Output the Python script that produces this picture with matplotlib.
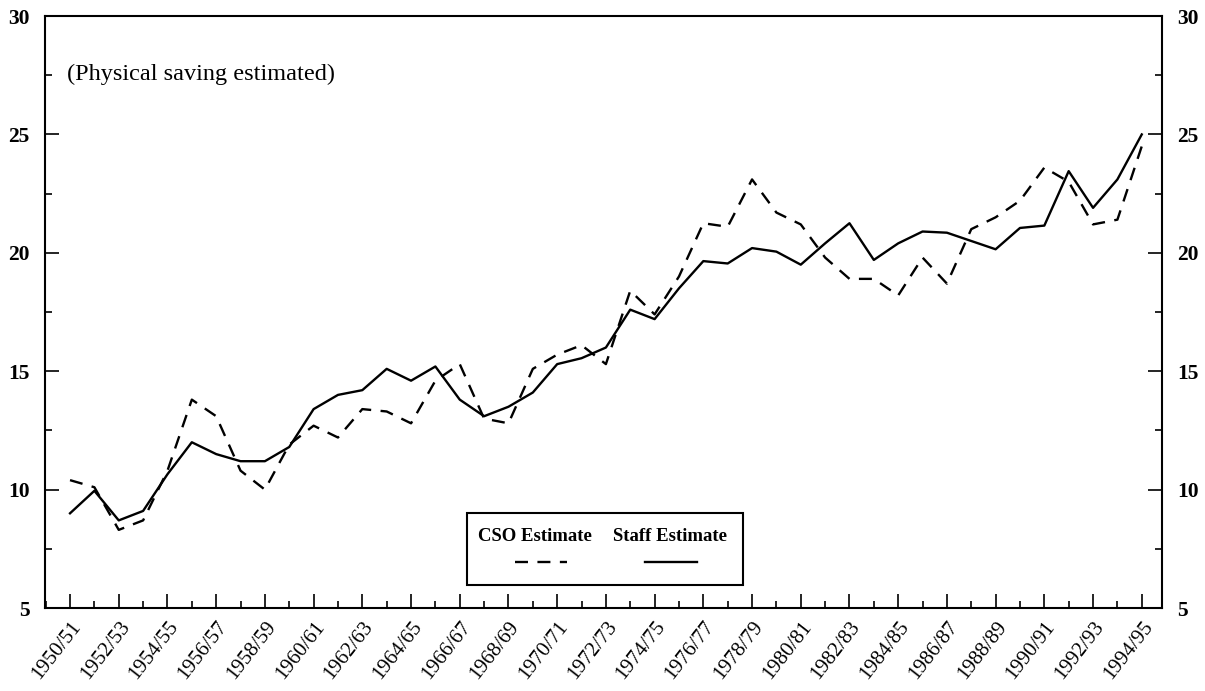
import numpy as np
import matplotlib
matplotlib.use('Agg')
import matplotlib.pyplot as plt
from matplotlib.patches import Rectangle
from matplotlib.lines import Line2D
from matplotlib.ticker import MultipleLocator

plt.rcParams['font.family'] = ['Liberation Serif', 'DejaVu Serif']

# fiscal years 1950/51 .. 1994/95
years = [f"{y}/{(y + 1) % 100:02d}" for y in range(1950, 1995)]

cso = [10.4, 10.1, 8.3, 8.7, 10.8, 13.8, 13.1, 10.8, 10.0, 11.9,
       12.7, 12.2, 13.4, 13.3, 12.8, 14.6, 15.3, 13.0, 12.8, 15.1,
       15.7, 16.1, 15.3, 18.4, 17.4, 19.0, 21.25, 21.1, 23.1, 21.7,
       21.2, 19.8, 18.9, 18.9, 18.2, 19.8, 18.7, 21.0, 21.5, 22.2,
       23.6, 23.0, 21.2, 21.4, 24.5]

staff = [9.0, 9.95, 8.7, 9.1, 10.65, 12.0, 11.5, 11.2, 11.2, 11.8,
         13.4, 14.0, 14.2, 15.1, 14.6, 15.2, 13.8, 13.1, 13.5, 14.1,
         15.3, 15.55, 16.0, 17.6, 17.2, 18.5, 19.65, 19.55, 20.2, 20.05,
         19.5, 20.4, 21.25, 19.7, 20.4, 20.9, 20.85, 20.5, 20.15, 21.05,
         21.15, 23.45, 21.9, 23.1, 25.0]

x = np.arange(len(years))

fig = plt.figure(figsize=(12.05, 6.91), dpi=100)
ax = fig.add_axes([0.0373, 0.1201, 0.9270, 0.8567])

ax.plot(x, cso, color='black', lw=1.7, linestyle=(0, (5.5, 4)))
ax.plot(x, staff, color='black', lw=1.7)

ax.set_xlim(-1.03, 44.83)
ax.set_ylim(5, 30)

ax.set_xticks(x[::2])
ax.set_xticklabels(years[::2], rotation=52, ha='right', rotation_mode='anchor',
                   fontsize=15)
ax.xaxis.set_minor_locator(MultipleLocator(1))
ax.yaxis.set_major_locator(MultipleLocator(5))
ax.yaxis.set_minor_locator(MultipleLocator(2.5))

ax.tick_params(axis='x', which='both', direction='in', top=False, pad=7)
ax.tick_params(axis='x', which='major', length=10, width=1.2)
ax.tick_params(axis='x', which='minor', length=5, width=1.2)
ax.tick_params(axis='y', which='both', direction='in', left=True, right=True,
               labelleft=True, labelright=True, labelsize=15.5, pad=11)
ax.tick_params(axis='y', which='major', length=10, width=1.2)
ax.tick_params(axis='y', which='minor', length=5, width=1.2)
for lab in ax.get_yticklabels():
    lab.set_fontweight('bold')

for s in ax.spines.values():
    s.set_linewidth(1.5)

ax.text(0.02, 0.902, '(Physical saving estimated)', transform=ax.transAxes,
        fontsize=17.5, ha='left', va='center')

# legend box, text above its line sample
ax.add_patch(Rectangle((0.378, 0.039), 0.247, 0.122, transform=ax.transAxes,
                       facecolor='white', edgecolor='black', lw=1.5, zorder=5))
ax.text(0.4386, 0.121, 'CSO Estimate', transform=ax.transAxes, fontsize=13.5,
        fontweight='bold', ha='center', va='center', zorder=6)
ax.text(0.5595, 0.121, 'Staff Estimate', transform=ax.transAxes, fontsize=13.5,
        fontweight='bold', ha='center', va='center', zorder=6)
ax.add_line(Line2D([0.421, 0.467], [0.078, 0.078], transform=ax.transAxes,
                   color='black', lw=1.7, linestyle=(0, (5.5, 4)), zorder=6))
ax.add_line(Line2D([0.537, 0.584], [0.078, 0.078], transform=ax.transAxes,
                   color='black', lw=1.7, zorder=6))

fig.savefig('out.png', dpi=100)
